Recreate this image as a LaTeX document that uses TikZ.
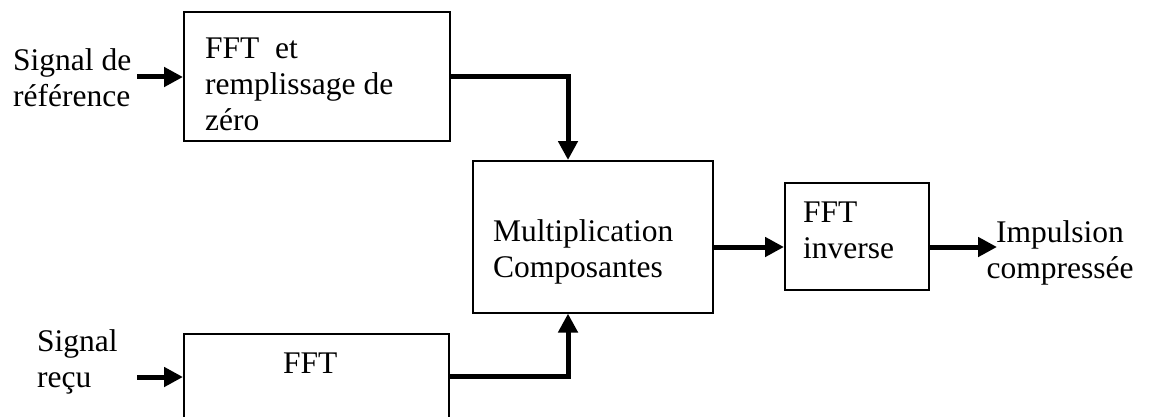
\documentclass[tikz,border=0pt]{standalone}
\usepackage{fontspec}
\setmainfont{Liberation Serif}
\usetikzlibrary{arrows.meta,calc}
\begin{document}
\begin{tikzpicture}[x=1pt,y=1pt,
  box/.style={draw, line width=1.6pt, rectangle, inner sep=0pt},
  txt/.style={inner sep=0pt, align=left, font=\fontsize{31.5}{36}\selectfont},
  flow/.style={line width=5pt, -{Triangle[length=19pt,width=19pt]}},
]
\clip (0,0) rectangle (1154,416);

% blocks
\node[box, minimum width=266pt, minimum height=129pt, anchor=north west] (b1) at (183,405) {};
\node[box, minimum width=265pt, minimum height=110pt, anchor=north west] (b2) at (183,83) {};
\node[box, minimum width=240pt, minimum height=152pt, anchor=north west] (b3) at (472,256) {};
\node[box, minimum width=144pt, minimum height=107pt, anchor=north west] (b4) at (784,234) {};

% block texts (anchored on the baseline of the last line)
\node[txt, anchor=base west] (t1) at (205,286) {FFT\ \ et\\remplissage de\\zéro};
\node[txt, anchor=base west] (t2) at (283,43) {FFT};
\node[txt, anchor=base west] (t3) at (493,139) {Multiplication\\Composantes};
\node[txt, anchor=base west] (t4) at (803,158) {FFT\\inverse};

% inputs and output labels
\node[txt, anchor=base west] (ref) at (13,309) {Signal de\\référence};
\node[txt, anchor=base west] (rec) at (37,29) {Signal\\reçu};
\node[txt, anchor=base, align=center] (out) at (1060,138) {Impulsion\\compressée};

% connector anchors
\coordinate (in1) at (137,339);
\coordinate (in2) at (137,39);
\coordinate (j) at (568,0);
\coordinate (mid) at (712,169);
\coordinate (o) at (997,169);
\coordinate (e2) at (448,40);

% connectors
\draw[flow] (in1) -- (in1 -| b1.west);
\draw[flow] (in2) -- (in2 -| b2.west);
\draw[flow] (b1.east) -| (j |- b3.north);
\draw[flow] (e2) -| (j |- b3.south);
\draw[flow] (mid) -- (mid -| b4.west);
\draw[flow] (mid -| b4.east) -- (o);
\end{tikzpicture}
\end{document}
